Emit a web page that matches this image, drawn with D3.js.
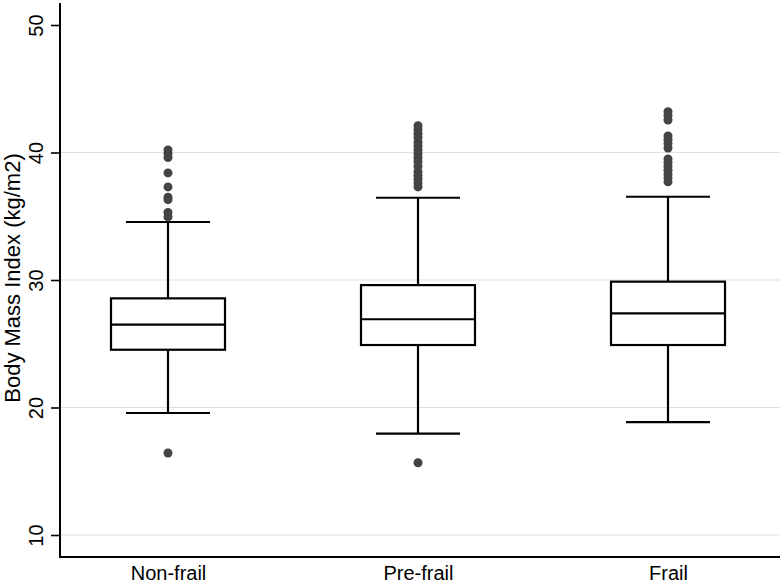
<!DOCTYPE html>
<html>
<head>
<meta charset="utf-8">
<script src="https://cdn.jsdelivr.net/npm/d3@7"></script>
<style>
  html, body { margin: 0; padding: 0; background: #fff; }
  svg { display: block; }
  text { font-family: "Liberation Sans", Arial, sans-serif; fill: #000; }
</style>
</head>
<body>
<svg id="chart" width="780" height="586"></svg>
<script>
const categories = ["Non-frail", "Pre-frail", "Frail"];
const lowerWhisker = [19.57, 17.95, 18.86];
const q1 = [24.53, 24.9, 24.9];
const median = [26.5, 26.92, 27.39];
const q3 = [28.56, 29.6, 29.87];
const upperWhisker = [34.55, 36.45, 36.53];
const outliersNonFrail = [40.2, 39.9, 39.6, 38.4, 37.3, 36.5, 36.3, 35.3, 34.95, 16.43];
const outliersPreFrail = [42.1, 41.8, 41.5, 41.2, 40.8, 40.5, 40.2, 39.9, 39.6, 39.3, 38.9, 38.5, 38.2, 37.9, 37.6, 37.3, 15.67];
const outliersFrail = [43.2, 42.9, 42.55, 41.3, 41.0, 40.7, 40.35, 39.5, 39.2, 38.9, 38.6, 38.3, 38.0, 37.7];
const yTicks = [10, 20, 30, 40, 50];
const gridValues = [10, 20, 30, 40];
const yTitle = "Body Mass Index (kg/m2)";

const outliers = [outliersNonFrail, outliersPreFrail, outliersFrail];

const svg = d3.select("#chart");
const W = 780, H = 586;
const axisX = 60, axisBottom = 557, axisTop = 3;

const y = d3.scaleLinear().domain([10, 50]).range([535, 25]);
const x = d3.scalePoint().domain(categories).range([58, 778]).padding(0.44);

// gridlines
svg.append("g").selectAll("line").data(gridValues).join("line")
  .attr("x1", axisX).attr("x2", W)
  .attr("y1", d => y(d)).attr("y2", d => y(d))
  .attr("stroke", "#dedede").attr("stroke-width", 1.2);

// y axis
const yAxis = d3.axisLeft(y).tickValues(yTicks).tickSize(9).tickPadding(8).tickFormat(d3.format("d"));
const gy = svg.append("g").attr("transform", `translate(${axisX},0)`).call(yAxis);
gy.select(".domain").remove();
gy.selectAll(".tick line").attr("stroke", "#000").attr("stroke-width", 1.6);
gy.selectAll(".tick text")
  .attr("x", null).attr("dy", null)
  .attr("transform", "translate(-17,0) rotate(-90)")
  .attr("text-anchor", "middle")
  .attr("font-size", 20)
  .style("font-family", "'Liberation Sans', Arial, sans-serif");

svg.append("line").attr("x1", axisX).attr("x2", axisX).attr("y1", axisTop).attr("y2", axisBottom)
  .attr("stroke", "#000").attr("stroke-width", 2);

// x axis
const xAxis = d3.axisBottom(x).tickSize(0).tickPadding(9);
const gx = svg.append("g").attr("transform", `translate(0,${axisBottom})`).call(xAxis);
gx.select(".domain").remove();
gx.selectAll(".tick text").attr("font-size", 20)
  .style("font-family", "'Liberation Sans', Arial, sans-serif");
svg.append("line").attr("x1", axisX - 1).attr("x2", W).attr("y1", axisBottom).attr("y2", axisBottom)
  .attr("stroke", "#000").attr("stroke-width", 2);

// y title
svg.append("text")
  .attr("transform", `translate(20,278) rotate(-90)`)
  .attr("text-anchor", "middle")
  .attr("font-size", 22)
  .text(yTitle);

// boxes
const boxHalf = 57, capHalf = 42;
const data = categories.map((c, i) => ({
  c, lo: lowerWhisker[i], q1: q1[i], med: median[i], q3: q3[i], hi: upperWhisker[i], out: outliers[i]
}));
const g = svg.append("g");
data.forEach(d => {
  const cx = x(d.c);
  const line = (x1, y1, x2, y2) => g.append("line")
    .attr("x1", x1).attr("y1", y1).attr("x2", x2).attr("y2", y2)
    .attr("stroke", "#000").attr("stroke-width", 2.2);
  // whiskers
  line(cx, y(d.q3), cx, y(d.hi));
  line(cx, y(d.q1), cx, y(d.lo));
  line(cx - capHalf, y(d.hi), cx + capHalf, y(d.hi));
  line(cx - capHalf, y(d.lo), cx + capHalf, y(d.lo));
  // box
  g.append("rect").attr("x", cx - boxHalf).attr("width", boxHalf * 2)
    .attr("y", y(d.q3)).attr("height", y(d.q1) - y(d.q3))
    .attr("fill", "#fff").attr("stroke", "#000").attr("stroke-width", 2.2);
  line(cx - boxHalf, y(d.med), cx + boxHalf, y(d.med));
  // outliers
  g.selectAll(null).data(d.out).join("circle")
    .attr("cx", cx).attr("cy", v => y(v)).attr("r", 4.5)
    .attr("fill", "#444");
});
</script>
</body>
</html>
